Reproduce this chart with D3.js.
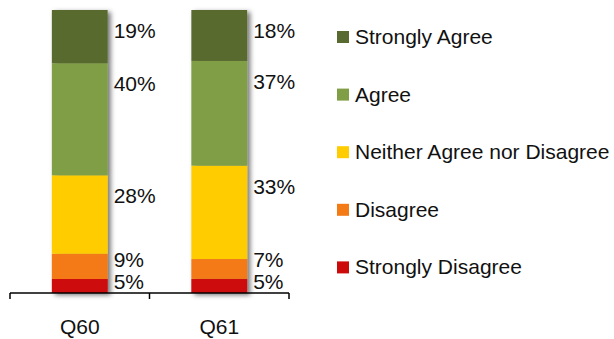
<!DOCTYPE html>
<html>
<head>
<meta charset="utf-8">
<script src="https://cdn.jsdelivr.net/npm/d3@7/dist/d3.min.js"></script>
<style>
  html, body { margin: 0; padding: 0; background: #ffffff; }
  svg { display: block; font-family: "Liberation Sans", Arial, sans-serif; }
</style>
</head>
<body>
<svg id="chart" width="614" height="339"></svg>
<script>
// Survey questions and response categories (bottom of stack first)
const questions = ["Q60", "Q61"];
const responses = ["Strongly Disagree", "Disagree", "Neither Agree nor Disagree", "Agree", "Strongly Agree"];
const colors = ["#cd0a0a", "#f37a14", "#ffcc00", "#7f9e45", "#586a2f"];

// Percentages per response, one value per question
const stronglyDisagree = [5, 5];
const disagree = [9, 7];
const neither = [28, 33];
const agree = [40, 37];
const stronglyAgree = [19, 18];

const seriesValues = [stronglyDisagree, disagree, neither, agree, stronglyAgree];

const rows = questions.map((q, i) => {
  const row = { question: q };
  responses.forEach((r, k) => { row[r] = seriesValues[k][i]; });
  return row;
});

const svg = d3.select("#chart");

const margin = { left: 10, right: 325, top: 10, bottom: 46 };
const width = 614, height = 339;
const plotBottom = height - margin.bottom;
const fontSize = 21;

const x = d3.scaleBand().domain(questions).range([margin.left, width - margin.right]).padding(0);
const y = d3.scaleLinear().domain([0, 1]).range([plotBottom, margin.top]);
const color = d3.scaleOrdinal().domain(responses).range(colors);

// 100% stacked layout
const stacked = d3.stack().keys(responses).offset(d3.stackOffsetExpand)(rows);

const barWidth = x.bandwidth() * 0.4;
const barX = q => x(q) + (x.bandwidth() - barWidth) / 2;

// soft shadow behind each column
const defs = svg.append("defs");
const f = defs.append("filter").attr("id", "shadow")
  .attr("x", "-20%").attr("y", "-5%").attr("width", "150%").attr("height", "115%");
f.append("feDropShadow").attr("dx", 3).attr("dy", 2).attr("stdDeviation", 2.5)
  .attr("flood-color", "#000").attr("flood-opacity", 0.55);

const barGroups = svg.append("g").selectAll("g.bar")
  .data(questions).join("g").attr("class", "bar")
  .attr("filter", "url(#shadow)");

barGroups.each(function (q, i) {
  d3.select(this).selectAll("rect")
    .data(stacked.map(s => ({ key: s.key, seg: s[i] })))
    .join("rect")
    .attr("x", barX(q))
    .attr("width", barWidth)
    .attr("y", d => y(d.seg[1]))
    .attr("height", d => y(d.seg[0]) - y(d.seg[1]))
    .attr("fill", d => color(d.key));
});

// Percentage labels to the right of each column, nudged apart when segments are thin
questions.forEach((q, i) => {
  const labelX = barX(q) + barWidth + 6;
  let prevBaseline = Infinity;
  stacked.forEach(s => {
    const top = y(s[i][1]);
    const bottom = y(s[i][0]);
    let base = Math.min(top + 28, bottom - 4);
    base = Math.min(base, prevBaseline - 22);
    prevBaseline = base;
    svg.append("text")
      .attr("x", labelX)
      .attr("y", base)
      .attr("font-size", fontSize)
      .attr("fill", "#111")
      .text(rows[i][s.key] + "%");
  });
});

// Category axis with ticks at band boundaries
const axis = svg.append("g");
axis.append("line")
  .attr("x1", x.range()[0]).attr("x2", x.range()[1])
  .attr("y1", plotBottom).attr("y2", plotBottom)
  .attr("stroke", "#000").attr("stroke-width", 1.5);
const tickPositions = questions.map(q => x(q)).concat([x.range()[1]]);
axis.selectAll("line.tick").data(tickPositions).join("line")
  .attr("class", "tick")
  .attr("x1", d => d).attr("x2", d => d)
  .attr("y1", plotBottom).attr("y2", plotBottom + 6)
  .attr("stroke", "#000").attr("stroke-width", 1.5);
axis.selectAll("text").data(questions).join("text")
  .attr("x", d => x(d) + x.bandwidth() / 2)
  .attr("y", 334)
  .attr("text-anchor", "middle")
  .attr("font-size", fontSize)
  .attr("fill", "#111")
  .text(d => d);

// Legend, top entry first
const legendItems = responses.slice().reverse();
const legend = svg.append("g").attr("transform", "translate(337, 37)");
const li = legend.selectAll("g").data(legendItems).join("g")
  .attr("transform", (d, i) => `translate(0, ${i * 57.6})`);
li.append("rect").attr("x", 0).attr("y", -6).attr("width", 12).attr("height", 12)
  .attr("fill", d => color(d));
li.append("text").attr("x", 18).attr("y", 7)
  .attr("font-size", fontSize).attr("fill", "#111")
  .text(d => d);
</script>
</body>
</html>
